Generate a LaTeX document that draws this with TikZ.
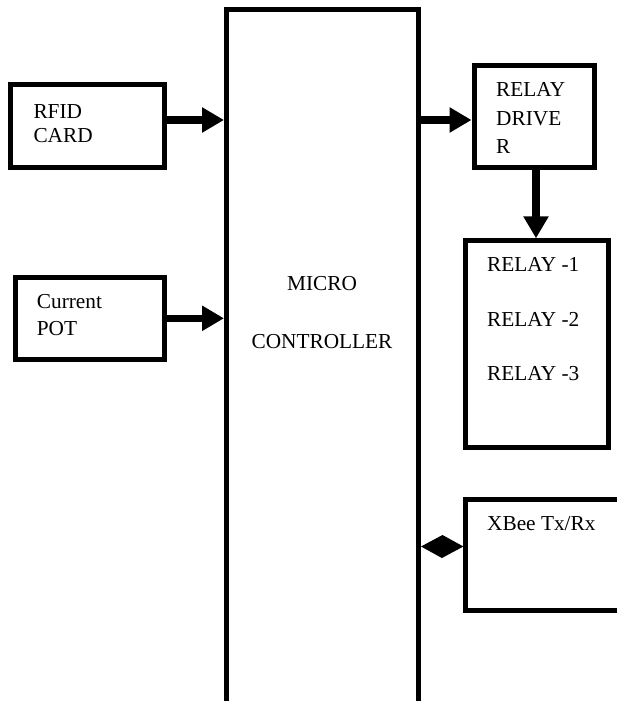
\documentclass[tikz,border=0pt]{standalone}
\usepackage{fontspec}
\setmainfont{Liberation Serif}
\usetikzlibrary{arrows.meta}
\begin{document}
\begin{tikzpicture}[x=1pt,y=-1pt,
  box/.style={draw,line width=5pt,rectangle,inner sep=0pt},
  arr/.style={line width=7.5pt,-{Triangle[length=22pt,width=24pt]}},
  txt/.style={anchor=base west,inner sep=0pt,font=\fontsize{21.3}{24}\selectfont},
  ctxt/.style={anchor=base,inner sep=0pt,font=\fontsize{21.3}{24}\selectfont}]
\useasboundingbox[fill=white] (0,0) rectangle (616,701);
% boxes
\node[box,minimum width=154pt,minimum height=83pt] (rfid) at (87.5,126) {};
\node[box,minimum width=149pt,minimum height=81.7pt] (pot) at (89.7,318.3) {};
\node[box,minimum width=192pt,minimum height=693.5pt] (main) at (322.5,356.25) {};
\node[box,minimum width=120pt,minimum height=102pt] (driver) at (534,116.5) {};
\node[box,minimum width=142.4pt,minimum height=206.7pt] (relays) at (537,344.15) {};
\node[box,minimum width=159pt,minimum height=110.7pt] (xbee) at (545.4,554.85) {};
% texts
\node[txt] (t1) at (33.3,118) {RFID};
\node[txt] (t2) at (33.3,142) {CARD};
\node[txt] (t3) at (36.7,308.3) {Current};
\node[txt] (t4) at (36.7,335) {POT};
\node[ctxt] (t5) at (322,290) {MICRO};
\node[ctxt] (t6) at (322,348) {CONTROLLER};
\node[txt] (t7) at (496,96.7) {RELAY};
\node[txt] (t8) at (496,125) {DRIVE};
\node[txt] (t9) at (496,153) {R};
\node[txt] (t10) at (487,271.7) {RELAY -1};
\node[txt] (t11) at (487,326.7) {RELAY -2};
\node[txt] (t12) at (487,380.7) {RELAY -3};
\node[txt] (t13) at (487,530) {XBee Tx/Rx};
% connectors
\draw[arr] (rfid.east |- 0,120) -- (main.west |- 0,120);
\draw[arr] (pot.east) -- (main.west |- pot.east);
\draw[arr] (main.east |- 0,120) -- (driver.west |- 0,120);
\draw[arr] (driver.south -| 536,0) -- (relays.north -| 536,0);
\fill (main.east |- 0,546.5) -- ++(21.5,-11.5) -- (xbee.west |- 0,546.5) -- ++(-21.5,11.5) -- cycle;
\end{tikzpicture}
\end{document}
